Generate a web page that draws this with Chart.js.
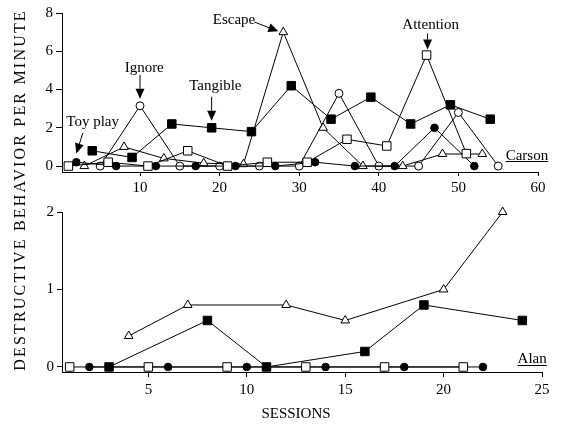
<!DOCTYPE html>
<html><head><meta charset="utf-8">
<script src="https://cdn.jsdelivr.net/npm/chart.js@4"></script>
<style>
html,body{margin:0;padding:0;background:#fff;}
body{width:563px;height:426px;position:relative;overflow:hidden;font-family:"Liberation Serif",serif;color:#000;}
canvas{position:absolute;left:0;}
#c1{top:0;}
#c2{top:200px;}
#ytitle{position:absolute;left:20px;top:190px;width:420px;margin-left:-210px;height:16px;margin-top:-8px;line-height:16px;
  font-size:16px;letter-spacing:2.2px;text-align:center;transform:rotate(-90deg);white-space:nowrap;}
#xtitle{position:absolute;left:196px;width:200px;top:406px;font-size:15px;line-height:15px;text-align:center;}
</style></head>
<body>
<canvas id="c1" width="563" height="200"></canvas>
<canvas id="c2" width="563" height="226"></canvas>
<div id="ytitle">DESTRUCTIVE BEHAVIOR PER MINUTE</div>
<div id="xtitle">SESSIONS</div>
<script>
// ---- Carson (top panel) ----
const carsonAttentionX = [1, 6, 11, 16, 21, 26, 31, 36, 41, 46, 51];
const carsonAttentionY = [0, 0.2, 0, 0.8, 0, 0.2, 0.2, 1.4, 1.05, 5.8, 0.65];
const carsonToyX = [2, 7, 12, 17, 22, 27, 32, 37, 42, 47, 52];
const carsonToyY = [0.2, 0, 0, 0, 0, 0, 0.2, 0, 0, 2.0, 0];
const carsonEscapeX = [3, 8, 13, 18, 23, 28, 33, 38, 43, 48, 53];
const carsonEscapeY = [0, 1.0, 0.4, 0.15, 0.1, 7.0, 2.0, 0, 0, 0.63, 0.63];
const carsonTangibleX = [4, 9, 14, 19, 24, 29, 34, 39, 44, 49, 54];
const carsonTangibleY = [0.8, 0.45, 2.2, 2.0, 1.8, 4.2, 2.45, 3.6, 2.2, 3.2, 2.45];
const carsonIgnoreX = [5, 10, 15, 20, 25, 30, 35, 40, 45, 50, 55];
const carsonIgnoreY = [0, 3.15, 0, 0, 0, 0, 3.8, 0, 0, 2.8, 0];
const carsonXTicks = [10, 20, 30, 40, 50, 60];
const carsonYTicks = [0, 2, 4, 6, 8];

// ---- Alan (bottom panel) ----
const alanAttentionX = [1, 5, 9, 13, 17, 21];
const alanAttentionY = [0, 0, 0, 0, 0, 0];
const alanToyX = [2, 6, 10, 14, 18, 22];
const alanToyY = [0, 0, 0, 0, 0, 0];
const alanTangibleX = [3, 8, 11, 16, 19, 24];
const alanTangibleY = [0, 0.6, 0, 0.2, 0.8, 0.6];
const alanEscapeX = [4, 7, 12, 15, 20, 23];
const alanEscapeY = [0.4, 0.8, 0.8, 0.6, 1.0, 2.0];
const alanXTicks = [5, 10, 15, 20, 25];
const alanYTicks = [0, 1, 2];

const FONT = '"Liberation Serif", "Times New Roman", serif';

const STYLES = {
  attention: {pointStyle: 'rect', pointRadius: 6, pointBackgroundColor: '#fff'},
  toy: {pointStyle: 'circle', pointRadius: 3.8, pointBackgroundColor: '#000'},
  escape: {pointStyle: 'triangle', pointRadius: 5, pointBackgroundColor: '#fff'},
  tangible: {pointStyle: 'rect', pointRadius: 6, pointBackgroundColor: '#000'},
  ignore: {pointStyle: 'circle', pointRadius: 4, pointBackgroundColor: '#fff'}
};

function series(label, xs, ys, kind) {
  return Object.assign({
    label: label,
    data: xs.map((x, i) => ({x: x, y: ys[i]})),
    borderColor: '#000', borderWidth: 1,
    pointBorderColor: '#000', pointBorderWidth: 1,
    pointHoverRadius: 0, tension: 0, clip: false, fill: false
  }, STYLES[kind]);
}

function drawArrow(ctx, x1, y1, x2, y2) {
  const ang = Math.atan2(y2 - y1, x2 - x1);
  const L = 10, W = 4.5;
  const bx = x2 - L * Math.cos(ang), by = y2 - L * Math.sin(ang);
  ctx.beginPath();
  ctx.moveTo(x1, y1); ctx.lineTo(bx, by);
  ctx.lineWidth = 1; ctx.stroke();
  ctx.beginPath();
  ctx.moveTo(x2, y2);
  ctx.lineTo(bx + W * Math.sin(ang), by - W * Math.cos(ang));
  ctx.lineTo(bx - W * Math.sin(ang), by + W * Math.cos(ang));
  ctx.closePath(); ctx.fill();
}

const annotPlugin = {
  id: 'annot',
  afterDatasetsDraw(chart, args, opts) {
    const ctx = chart.ctx, xs = chart.scales.x, ys = chart.scales.y, ca = chart.chartArea;
    ctx.save();
    ctx.fillStyle = '#000'; ctx.strokeStyle = '#000';
    ctx.font = '15px ' + FONT;
    ctx.textBaseline = 'alphabetic';
    (opts.items || []).forEach(a => {
      const px = xs.getPixelForValue(a.x), py = ys.getPixelForValue(a.y);
      ctx.textAlign = 'center';
      ctx.fillText(a.text, px + a.tx, py + a.ty);
      drawArrow(ctx, px + a.sx, py + a.sy, px + a.ex, py + a.ey);
    });
    if (opts.panel) {
      const p = opts.panel;
      const lx = ca.right + p.dx, ly = ca.bottom + p.dy;
      ctx.textAlign = 'left';
      ctx.fillText(p.text, lx, ly);
      const w = ctx.measureText(p.text).width;
      ctx.beginPath(); ctx.lineWidth = 1;
      ctx.moveTo(lx, Math.round(ly + 1.5) + 0.5); ctx.lineTo(lx + w, Math.round(ly + 1.5) + 0.5);
      ctx.stroke();
    }
    ctx.restore();
  }
};

function axisX(min, max, ticks, height, tickLen, pad) {
  return {
    type: 'linear', min: min, max: max,
    afterBuildTicks: s => { s.ticks = ticks.map(v => ({value: v})); },
    afterFit: s => { s.height = height; },
    border: {display: true, color: '#000', width: 1},
    grid: {display: true, drawOnChartArea: false, drawTicks: true, tickLength: tickLen, color: '#000', lineWidth: 1},
    ticks: {color: '#000', font: {family: FONT, size: 15}, padding: pad, maxRotation: 0, autoSkip: false}
  };
}
function axisY(min, max, ticks, width, tickLen, pad) {
  return {
    type: 'linear', min: min, max: max,
    afterBuildTicks: s => { s.ticks = ticks.map(v => ({value: v})); },
    afterFit: s => { s.width = width; },
    border: {display: true, color: '#000', width: 1},
    grid: {display: true, drawOnChartArea: false, drawTicks: true, tickLength: tickLen, color: '#000', lineWidth: 1},
    ticks: {color: '#000', font: {family: FONT, size: 15}, padding: pad}
  };
}

const common = {
  responsive: false, animation: false, devicePixelRatio: 1,
  plugins: {legend: {display: false}, tooltip: {enabled: false}},
  events: []
};

new Chart(document.getElementById('c1'), {
  type: 'line',
  data: {datasets: [
    series('Attention', carsonAttentionX, carsonAttentionY, 'attention'),
    series('Toy play', carsonToyX, carsonToyY, 'toy'),
    series('Escape', carsonEscapeX, carsonEscapeY, 'escape'),
    series('Tangible', carsonTangibleX, carsonTangibleY, 'tangible'),
    series('Ignore', carsonIgnoreX, carsonIgnoreY, 'ignore')
  ]},
  options: Object.assign({}, common, {
    layout: {padding: {left: 0, right: 25, top: 13, bottom: 0}},
    scales: {
      x: axisX(0.2, 60, carsonXTicks, 28, 4, 3),
      y: axisY(-0.31, 8, carsonYTicks, 62, 6, 3)
    },
    plugins: Object.assign({}, common.plugins, {
      annot: {
        items: [
          {text: 'Toy play', x: 2, y: 0.2, tx: 16.3, ty: -36, sx: 6.6, sy: -29.4, ex: 0, ey: -8.8},
          {text: 'Ignore', x: 10, y: 3.15, tx: 4.2, ty: -33.9, sx: 0, sy: -31, ex: 0, ey: -7},
          {text: 'Tangible', x: 19, y: 2.0, tx: 3.7, ty: -37.6, sx: 0, sy: -31, ex: 0, ey: -7},
          {text: 'Escape', x: 28, y: 7.0, tx: -49.3, ty: -8.5, sx: -28.8, sy: -10.1, ex: -5, ey: -0.8},
          {text: 'Attention', x: 46, y: 5.8, tx: 4.1, ty: -25.8, sx: 1, sy: -21.5, ex: 1, ey: -5.5}
        ],
        panel: {text: 'Carson', dx: -32.3, dy: -12.4}
      }
    })
  }),
  plugins: [annotPlugin]
});

new Chart(document.getElementById('c2'), {
  type: 'line',
  data: {datasets: [
    series('Attention', alanAttentionX, alanAttentionY, 'attention'),
    series('Toy play', alanToyX, alanToyY, 'toy'),
    series('Escape', alanEscapeX, alanEscapeY, 'escape'),
    series('Tangible', alanTangibleX, alanTangibleY, 'tangible')
  ]},
  options: Object.assign({}, common, {
    layout: {padding: {left: 0, right: 21, top: 12, bottom: 0}},
    scales: {
      x: axisX(0.61, 25, alanXTicks, 54, 5, 4),
      y: axisY(-0.065, 2, alanYTicks, 62, 5, 3)
    },
    plugins: Object.assign({}, common.plugins, {
      annot: {items: [], panel: {text: 'Alan', dx: -24.4, dy: -9}}
    })
  }),
  plugins: [annotPlugin]
});
</script>
</body></html>
